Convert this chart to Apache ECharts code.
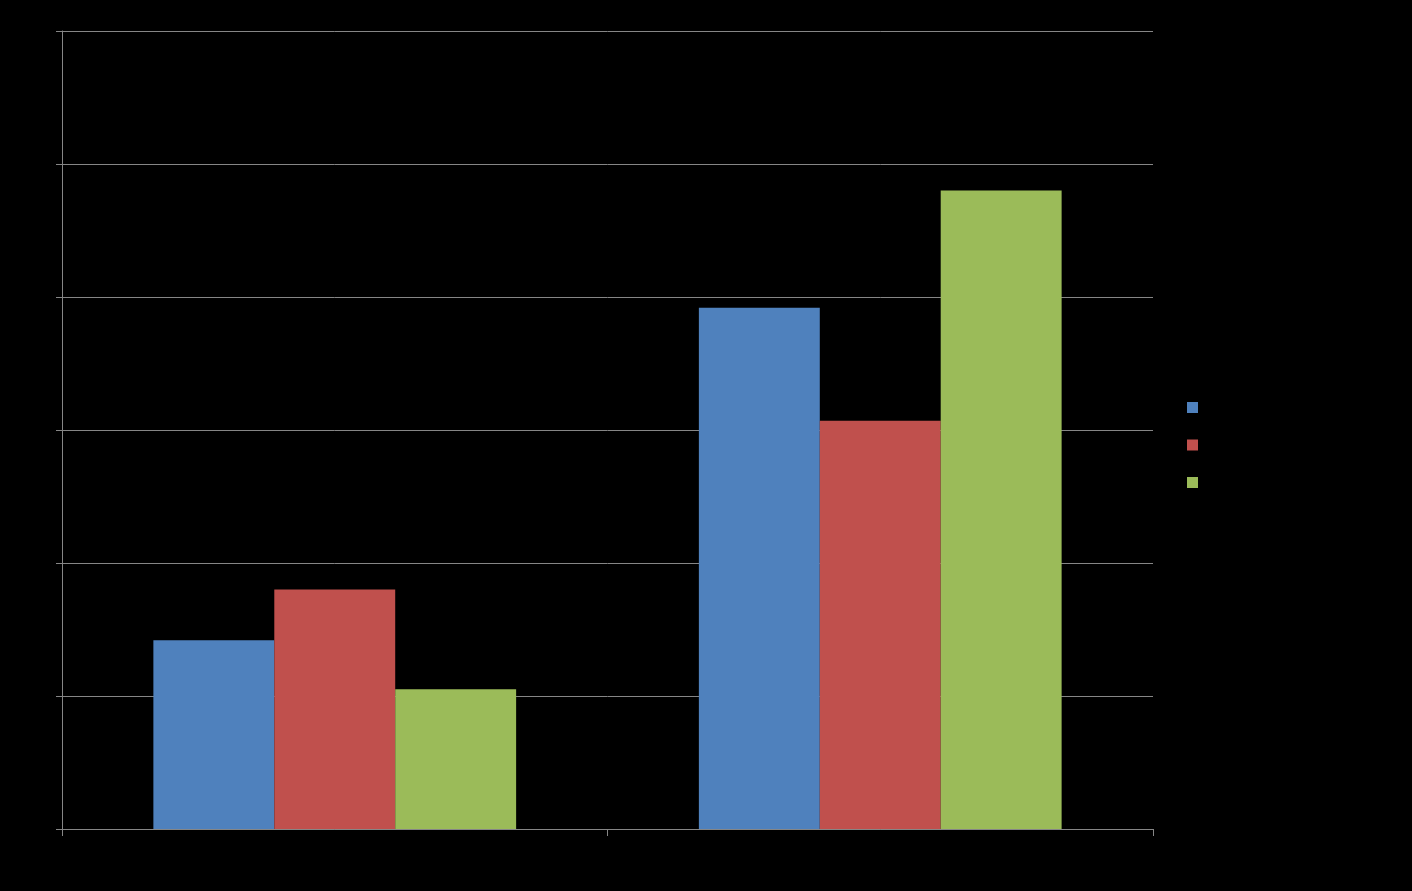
<!DOCTYPE html>
<html>
<head>
<meta charset="utf-8">
<script src="https://cdn.jsdelivr.net/npm/echarts@6/dist/echarts.min.js"></script>
<style>
html,body{margin:0;padding:0;background:#000;}
#c{width:1412px;height:891px;}
</style>
</head>
<body>
<div id="c"></div>
<script>
const categories = ['Category 1', 'Category 2'];
const seriesNames = ['Series 1', 'Series 2', 'Series 3'];
const series1 = [1.42, 3.92];
const series2 = [1.80, 3.07];
const series3 = [1.05, 4.80];
const seriesColors = ['#4F81BD', '#C0504D', '#9BBB59'];

const values = [series1, series2, series3];
const chart = echarts.init(document.getElementById('c'), null, {renderer: 'canvas'});
const axisGray = '#868686';
chart.setOption({
  backgroundColor: '#000000',
  animation: false,
  textStyle: {fontFamily: 'Liberation Sans'},
  grid: {left: 62, right: 259, top: 31, bottom: 62, containLabel: false},
  legend: {
    orient: 'vertical',
    left: 1187,
    top: 402,
    icon: 'rect',
    itemWidth: 11,
    itemHeight: 11,
    itemGap: 26.5,
    padding: 0,
    textStyle: {color: '#000000', fontSize: 11, lineHeight: 11},
    data: seriesNames
  },
  xAxis: {
    type: 'category',
    data: categories,
    axisLine: {show: true, lineStyle: {color: axisGray, width: 1}},
    axisTick: {show: true, length: 7, lineStyle: {color: axisGray}},
    axisLabel: {color: '#000000', fontSize: 12}
  },
  yAxis: {
    type: 'value',
    min: 0,
    max: 6,
    interval: 1,
    axisLine: {show: true, lineStyle: {color: axisGray, width: 1}},
    axisTick: {show: true, length: 6, lineStyle: {color: axisGray}},
    axisLabel: {color: '#000000', fontSize: 12},
    splitLine: {show: true, lineStyle: {color: axisGray, width: 1}}
  },
  series: seriesNames.map((n, i) => ({
    name: n,
    type: 'bar',
    data: values[i],
    barGap: '0%',
    barCategoryGap: '33.5%',
    itemStyle: {color: seriesColors[i]}
  }))
});
</script>
</body>
</html>
